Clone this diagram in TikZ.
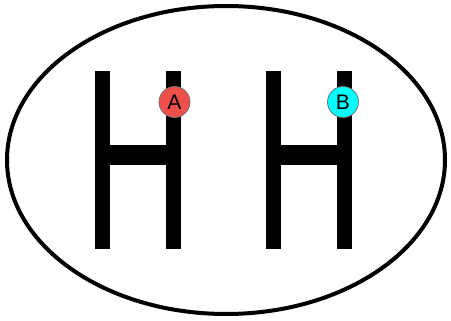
\documentclass[tikz,border=0pt]{standalone}
\usepackage{fontspec}
\setmainfont{Liberation Sans}
\usepackage{tikz}
\usetikzlibrary{positioning}
\definecolor{pinA}{HTML}{F0504C}
\definecolor{pinB}{HTML}{00FFFF}

\begin{document}
\begin{tikzpicture}[x=1pt,y=-1pt,
   pin/.style={circle,draw=black!55,line width=0.8pt,minimum size=31pt,inner sep=0pt,font=\fontsize{21}{21}\selectfont},
   bar/.style={fill=black}]
  \useasboundingbox (0,0) rectangle (451,321);
  % outer ellipse
  \draw[line width=4pt] (226,160) ellipse (219 and 154);
  % left H
  \fill[bar] (95,71) rectangle (110,249);  \fill[bar] (166,71) rectangle (181,249);
  \fill[bar] (110,145) rectangle (166,165);
  % right H
  \fill[bar] (266,71) rectangle (281,249); \fill[bar] (337,71) rectangle (352,249);
  \fill[bar] (281,145) rectangle (337,165);
  % markers
  \node[pin,fill=pinA](A) at (174.5,102){A};
  \node[pin,fill=pinB](B) at (343,102){B};
\end{tikzpicture}
\end{document}
